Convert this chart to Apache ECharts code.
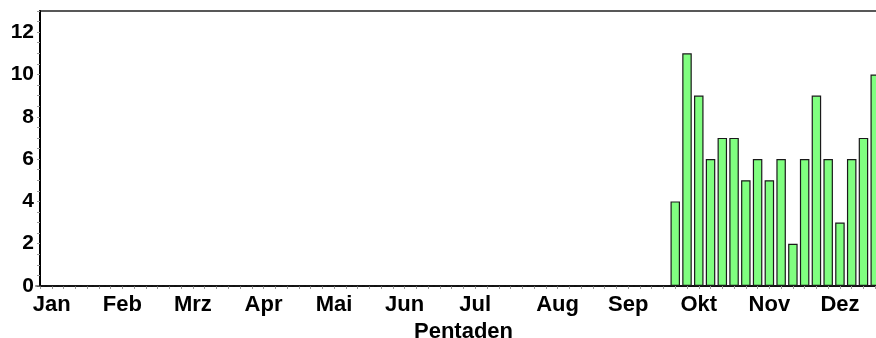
<!DOCTYPE html>
<html>
<head>
<meta charset="utf-8">
<style>
  html, body { margin: 0; padding: 0; background: #fff; }
  #chart { width: 876px; height: 338px; }
</style>
<script src="https://cdn.jsdelivr.net/npm/echarts@6/dist/echarts.min.js"></script>
</head>
<body>
<div id="chart"></div>
<script>
// Pentads of the year (1..73)
const pentads = Array.from({ length: 73 }, (_, i) => String(i + 1));

// Counts per pentad; pentads 1–54 have no records
const counts = [
  0, 0, 0, 0, 0, 0, 0, 0, 0, 0,
  0, 0, 0, 0, 0, 0, 0, 0, 0, 0,
  0, 0, 0, 0, 0, 0, 0, 0, 0, 0,
  0, 0, 0, 0, 0, 0, 0, 0, 0, 0,
  0, 0, 0, 0, 0, 0, 0, 0, 0, 0,
  0, 0, 0, 0,
  4, 11, 9, 6, 7, 7, 5, 6, 5, 6,
  2, 6, 9, 6, 3, 6, 7, 10, 0
];

// Month names and the pentad each name is written under
const monthNames = ['Jan', 'Feb', 'Mrz', 'Apr', 'Mai', 'Jun', 'Jul', 'Aug', 'Sep', 'Okt', 'Nov', 'Dez'];
const monthPentads = [2, 8, 14, 20, 26, 32, 38, 45, 51, 57, 63, 69];

// Value axis tick labels
const yTicks = [0, 2, 4, 6, 8, 10, 12];

const monthByIndex = {};
monthPentads.forEach((p, i) => { monthByIndex[p - 1] = monthNames[i]; });

const FONT = '"Liberation Sans", Arial, sans-serif';

const chart = echarts.init(document.getElementById('chart'), null, { renderer: 'canvas' });
chart.setOption({
  animation: false,
  backgroundColor: '#ffffff',
  grid: {
    left: 40,
    top: 11,
    width: 847,
    bottom: 52,
    containLabel: false,
    outerBoundsMode: 'none',
    show: true,
    borderColor: '#222222',
    borderWidth: 1.5,
    backgroundColor: 'transparent'
  },
  xAxis: {
    type: 'category',
    data: pentads,
    boundaryGap: false,
    name: 'Pentaden',
    nameLocation: 'middle',
    nameGap: 35,
    nameTextStyle: { fontFamily: FONT, fontWeight: 'bold', fontSize: 22, color: '#000' },
    axisLine: { lineStyle: { color: '#111', width: 2 } },
    axisTick: { show: true, interval: 0, length: 3, lineStyle: { color: '#999', width: 1 } },
    axisLabel: {
      interval: 0,
      margin: 8,
      fontFamily: FONT,
      fontWeight: 'bold',
      fontSize: 22,
      color: '#000',
      formatter: (v, i) => monthByIndex[i] || ''
    },
    splitLine: { show: false }
  },
  yAxis: {
    type: 'value',
    min: 0,
    max: 13,
    interval: 2,
    axisLine: { show: true, lineStyle: { color: '#000', width: 2 } },
    axisTick: { show: true, length: 3, lineStyle: { color: '#999', width: 1 } },
    minorTick: { show: true, splitNumber: 4, length: 3, lineStyle: { color: '#999', width: 1 } },
    axisLabel: {
      margin: 6,
      fontFamily: FONT,
      fontWeight: 'bold',
      fontSize: 21,
      color: '#000',
      showMaxLabel: false,
      formatter: v => (yTicks.indexOf(v) >= 0 ? String(v) : '')
    },
    splitLine: { show: false }
  },
  series: [{
    type: 'bar',
    data: counts,
    barWidth: 9.5,
    clip: true,
    itemStyle: {
      color: '#80ff80',
      borderColor: '#1a1a1a',
      borderWidth: 1.2
    }
  }]
});
</script>
</body>
</html>
